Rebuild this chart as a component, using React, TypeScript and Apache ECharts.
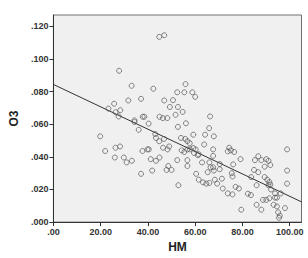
import React, { useEffect, useRef } from "react";
import * as echarts from "echarts";

const hmValues: number[] = [
  44.8, 46.9, 27.8, 42.3, 33.1, 31.7, 37.1, 46.9, 25.7, 23.3, 26.3, 28.3, 27.6, 37.8, 38.5, 34.3, 34.3, 40.3, 44.9, 46.3,
  55.9, 52.4, 55.4, 58.8, 60.0, 50.6, 49.3, 52.7, 54.7, 48.2, 51.7, 66.3, 56.1, 52.7, 65.9,
  19.8, 21.9, 26.3, 28.2, 26.0, 29.8, 31.0, 33.2, 36.1, 37.7, 39.8, 40.4, 41.2, 43.4, 44.9, 37.1, 41.8, 43.1, 43.4, 44.8, 46.4,
  59.2, 64.2, 67.9, 54.0, 55.8, 56.7, 57.7, 46.8, 63.8, 48.3, 49.0, 54.3, 55.4, 56.7, 57.8, 59.2, 60.2, 59.5, 61.1, 67.6,
  74.4, 75.1, 76.5, 73.8, 79.2, 52.4, 56.7, 62.9, 66.0, 67.6, 48.6, 50.0, 47.9, 56.7, 66.5, 67.6, 70.4, 70.4, 76.1, 65.3,
  67.9, 60.4, 75.5, 75.8, 85.3, 88.0, 90.1, 91.0, 91.8, 89.4, 84.9, 86.7, 98.9, 98.9, 98.9, 52.9, 61.5, 63.3, 64.7, 66.0,
  68.3, 69.3, 71.3, 71.7, 73.8, 75.8, 77.1, 78.5, 82.3, 83.6, 83.7, 86.0, 89.4, 90.5, 91.0, 91.8, 91.4, 88.7, 90.1, 91.4,
  93.8, 94.6, 86.0, 88.0, 93.2, 94.6, 95.1, 95.8, 95.5, 96.2, 79.5, 98.0, 92.1, 93.8, 86.7, 61.5,
];

const o3Values: number[] = [
  0.1136, 0.1146, 0.0928, 0.0818, 0.0836, 0.0746, 0.0756, 0.0746, 0.0726, 0.0696, 0.0674, 0.0686, 0.0648, 0.0646, 0.0646, 0.0624, 0.0614, 0.0604, 0.0646, 0.0638,
  0.0846, 0.0796, 0.0796, 0.0796, 0.0768, 0.0748, 0.0706, 0.0706, 0.0676, 0.0638, 0.0658, 0.0648, 0.0606, 0.0584, 0.0576,
  0.0526, 0.0436, 0.0456, 0.0464, 0.0396, 0.0396, 0.0366, 0.0376, 0.0566, 0.0436, 0.0446, 0.0446, 0.0386, 0.0376, 0.0396, 0.0296, 0.0316, 0.054, 0.0516, 0.0496, 0.0456,
  0.0536, 0.0536, 0.0526, 0.0516, 0.051, 0.0496, 0.0484, 0.051, 0.0476, 0.0446, 0.0464, 0.044, 0.043, 0.0446, 0.0446, 0.0454, 0.0446, 0.0424, 0.041, 0.0446,
  0.0456, 0.044, 0.043, 0.0434, 0.0386, 0.038, 0.038, 0.0366, 0.0366, 0.0406, 0.0344, 0.032, 0.032, 0.0344, 0.0336, 0.0336, 0.0356, 0.0324, 0.0354, 0.0306,
  0.0316, 0.0296, 0.03, 0.028, 0.038, 0.038, 0.0386, 0.0376, 0.035, 0.034, 0.032, 0.0306, 0.0446, 0.0316, 0.0236, 0.0226, 0.026, 0.0244, 0.0236, 0.024,
  0.026, 0.0236, 0.0266, 0.0206, 0.0176, 0.017, 0.0216, 0.0206, 0.0174, 0.0166, 0.0276, 0.0226, 0.0276, 0.026, 0.0226, 0.023, 0.0246, 0.0136, 0.0136, 0.0146,
  0.015, 0.015, 0.0106, 0.0076, 0.0106, 0.0096, 0.006, 0.004, 0.0026, 0.0176, 0.0076, 0.0086, 0.02, 0.0176, 0.0404, 0.0416,
];

const fitLineX: number[] = [0, 105];
const fitLineY: number[] = [0.0844, 0.0124];

const xTickLabels: string[] = [".00", "20.00", "40.00", "60.00", "80.00", "100.00"];
const yTickLabels: string[] = [".000", ".020", ".040", ".060", ".080", ".100", ".120"];

export default function App() {
  const ref = useRef<HTMLDivElement>(null);
  useEffect(() => {
    if (!ref.current) return;
    const chart = echarts.init(ref.current, null, { renderer: "svg" });
    const points = hmValues.map((x, i) => [x, o3Values[i]]);
    const line = fitLineX.map((x, i) => [x, fitLineY[i]]);
    chart.setOption({
      animation: false,
      backgroundColor: "#ffffff",
      grid: {
        left: 44,
        top: 15,
        width: 257.5,
        height: 211.7,
        show: true,
        backgroundColor: "#f0f0f0",
        borderColor: "#707070",
        borderWidth: 1,
      },
      xAxis: {
        type: "value",
        min: 0,
        max: 105,
        interval: 20,
        name: "HM",
        nameLocation: "middle",
        nameGap: 18,
        nameTextStyle: { fontFamily: "Liberation Sans, Arial, sans-serif", fontWeight: "bold", fontSize: 12, color: "#222" },
        axisLine: { show: true, lineStyle: { color: "#333", width: 1 } },
        axisTick: { show: true, length: 4, lineStyle: { color: "#333" } },
        splitLine: { show: false },
        axisLabel: {
          margin: 5,
          showMaxLabel: false,
          fontFamily: "Liberation Sans, Arial, sans-serif",
          fontWeight: "bold",
          fontSize: 9,
          color: "#333",
          formatter: (v: number) => {
            const idx = Math.round(v / 20);
            return Math.abs(v - idx * 20) < 1e-6 && idx < xTickLabels.length ? xTickLabels[idx] : "";
          },
        },
      },
      yAxis: {
        type: "value",
        min: 0,
        max: 0.127,
        interval: 0.02,
        name: "O3",
        nameLocation: "middle",
        nameGap: 27,
        nameTextStyle: { fontFamily: "Liberation Sans, Arial, sans-serif", fontWeight: "bold", fontSize: 12, color: "#222" },
        axisLine: { show: true, lineStyle: { color: "#333", width: 1 } },
        axisTick: { show: true, length: 4, lineStyle: { color: "#333" } },
        splitLine: { show: false },
        axisLabel: {
          margin: 5,
          showMaxLabel: false,
          fontFamily: "Liberation Sans, Arial, sans-serif",
          fontWeight: "bold",
          fontSize: 9,
          color: "#333",
          formatter: (v: number) => {
            const idx = Math.round(v / 0.02);
            return Math.abs(v - idx * 0.02) < 1e-6 && idx < yTickLabels.length ? yTickLabels[idx] : "";
          },
        },
      },
      series: [
        {
          type: "scatter",
          data: points,
          symbol: "circle",
          symbolSize: 5,
          itemStyle: { color: "rgba(0,0,0,0)", borderColor: "#555", borderWidth: 0.9 },
          z: 3,
        },
        {
          type: "line",
          data: line,
          symbol: "none",
          lineStyle: { color: "#333", width: 1 },
          z: 2,
        },
      ],
    });
    return () => chart.dispose();
  }, []);
  return (
    <div
      ref={ref}
      style={{ position: "absolute", left: 0, top: 0, width: 308, height: 258 }}
    />
  );
}
